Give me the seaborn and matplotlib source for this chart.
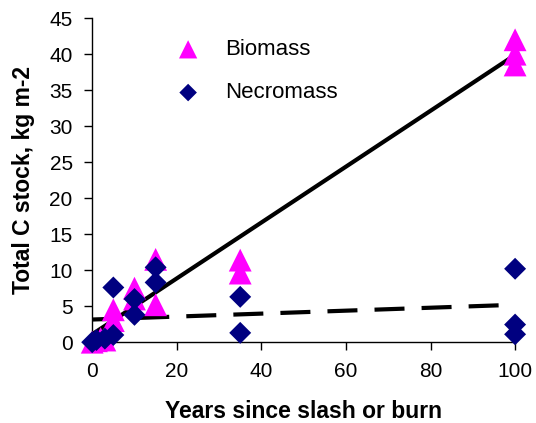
import numpy as np
import pandas as pd
import seaborn as sns
import matplotlib
matplotlib.use("Agg")
import matplotlib.pyplot as plt

# data
biomass_x = [0, 1, 2, 3, 5, 5, 10, 10, 15, 15, 35, 35, 100, 100, 100]
biomass_y = [0, 0.2, 0.5, 0.3, 3.0, 4.5, 6.0, 7.5, 5.2, 11.5, 11.4, 9.6, 42.0, 40.0, 38.5]
necro_x = [0, 1, 3, 5, 5, 10, 10, 15, 15, 35, 35, 100, 100, 100]
necro_y = [0, 0.3, 0.5, 1.0, 7.6, 6.0, 3.8, 10.4, 8.3, 6.3, 1.3, 10.2, 2.45, 1.1]

# linear trend lines as printed on the chart (intercept, slope)
biomass_trend = (1.1, 0.388)
necro_trend = (3.15, 0.0205)

x_ticks = [0, 20, 40, 60, 80, 100]
y_ticks = [0, 5, 10, 15, 20, 25, 30, 35, 40, 45]

biomass = pd.DataFrame({"years": biomass_x, "stock": biomass_y})
necro = pd.DataFrame({"years": necro_x, "stock": necro_y})

# trend line frames over the x range
trend_x = np.array([0, 100])
biomass_line = pd.DataFrame({"years": trend_x,
                             "stock": biomass_trend[0] + biomass_trend[1] * trend_x})
necro_line = pd.DataFrame({"years": trend_x,
                           "stock": necro_trend[0] + necro_trend[1] * trend_x})

sns.set_style("ticks")
plt.rcParams["font.family"] = ["Liberation Sans", "DejaVu Sans"]
plt.rcParams["text.color"] = "black"
plt.rcParams["axes.labelcolor"] = "black"
plt.rcParams["xtick.color"] = "black"
plt.rcParams["ytick.color"] = "black"

fig, ax = plt.subplots(figsize=(5.36, 4.23), dpi=100)
fig.subplots_adjust(left=0.172, right=0.961, bottom=0.191, top=0.957)

# trend lines
sns.lineplot(data=biomass_line, x="years", y="stock", color="black", lw=3, ax=ax)
sns.lineplot(data=necro_line, x="years", y="stock", color="black", lw=3,
             dashes=False, ax=ax)
ax.lines[-1].set_dashes((7.2, 4.1))

# points
sns.scatterplot(data=biomass, x="years", y="stock", marker="^", s=270,
                color="#FF00FF", edgecolor="none", label="Biomass",
                clip_on=False, zorder=3, ax=ax)
sns.scatterplot(data=necro, x="years", y="stock", marker="D", s=125,
                color="#000080", edgecolor="none", label="Necromass",
                clip_on=False, zorder=4, ax=ax)

ax.set_xlim(0, 100)
ax.set_ylim(0, 45)
ax.set_xticks(x_ticks)
ax.set_yticks(y_ticks)
ax.tick_params(labelsize=15, length=6, width=1, color="black", pad=8)
ax.set_xlabel("Years since slash or burn", fontsize=16.5, fontweight="bold", labelpad=14)
ax.set_ylabel("Total C stock, kg m-2", fontsize=16.5, fontweight="bold", labelpad=10)
for s in ["left", "bottom"]:
    ax.spines[s].set_color("black")
    ax.spines[s].set_linewidth(1)
sns.despine(ax=ax)

ax.legend(loc="upper left", bbox_to_anchor=(0.127, 0.997), frameon=False,
          fontsize=16, labelspacing=1.0, handletextpad=0.68, markerscale=0.8)

fig.savefig("out.png", dpi=100)
